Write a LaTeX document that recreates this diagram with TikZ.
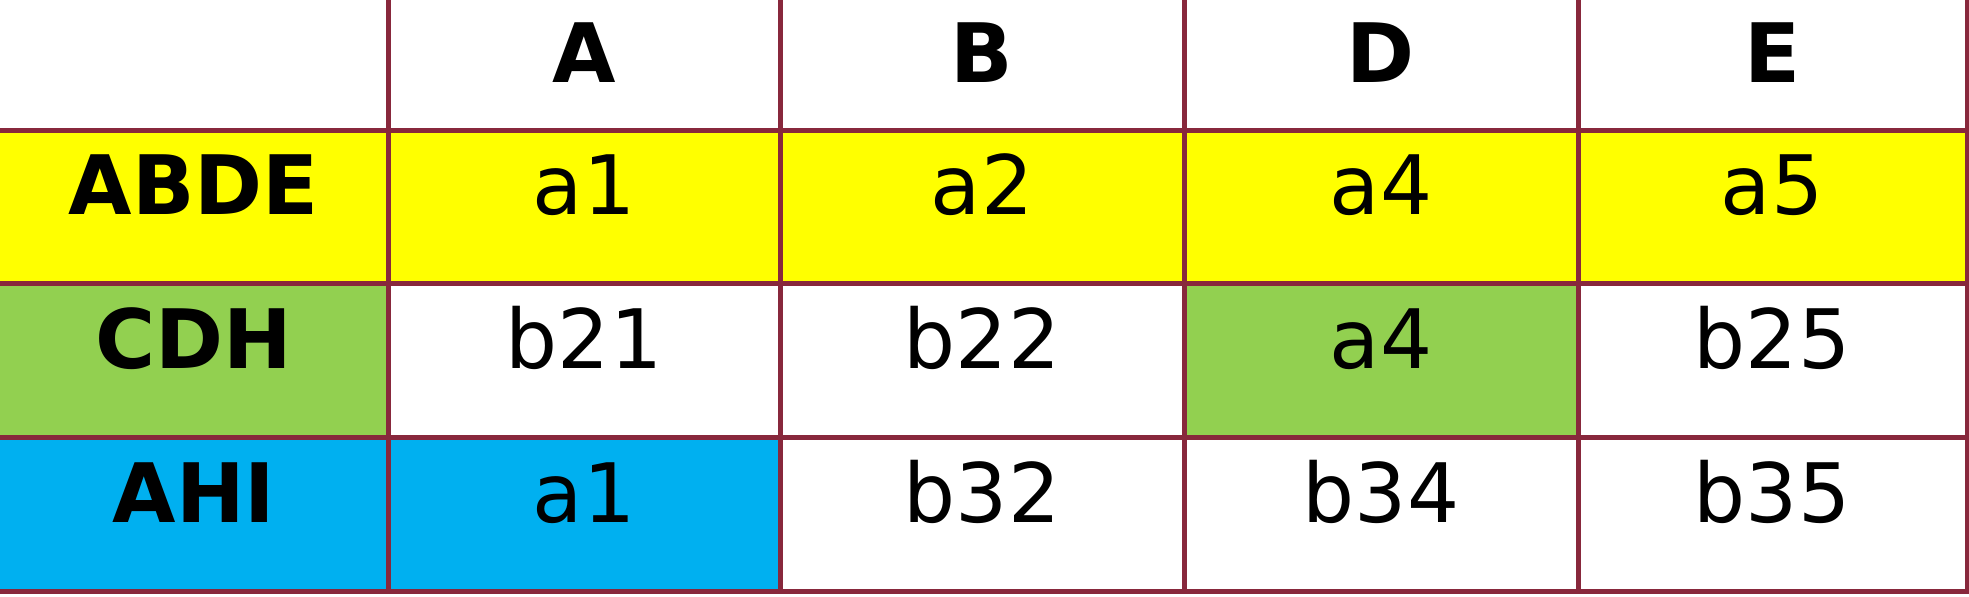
\documentclass[tikz,border=0pt]{standalone}
\usepackage{fontspec}
\setmainfont{DejaVu Sans}
\definecolor{gridc}{RGB}{136,40,60}
\definecolor{yel}{RGB}{255,255,0}
\definecolor{grn}{RGB}{146,208,80}
\definecolor{blu}{RGB}{0,176,240}
\begin{document}
\begin{tikzpicture}[x=0.5pt,y=-0.5pt,
  hd/.style={font=\fontsize{41}{49}\selectfont\bfseries, anchor=base, inner sep=0pt},
  cl/.style={font=\fontsize{41}{49}\selectfont, anchor=base, inner sep=0pt},
  gl/.style={draw=gridc, line width=2.5pt}]
\useasboundingbox (0,0) rectangle (1969,597);
\fill[white] (0,0) rectangle (1969,597);
% fills
\fill[yel] (0,131) rectangle (1967,284);
\fill[grn] (0,284) rectangle (388,438);
\fill[grn] (1184,284) rectangle (1578,438);
\fill[blu] (0,438) rectangle (780,592);
% grid
\draw[gl] (-2,-2) rectangle (1967,592);
\draw[gl] (388,-2) -- (388,592);
\draw[gl] (780,-2) -- (780,592);
\draw[gl] (1184,-2) -- (1184,592);
\draw[gl] (1578,-2) -- (1578,592);
\draw[gl] (-2,131) -- (1967,131);
\draw[gl] (-2,284) -- (1967,284);
\draw[gl] (-2,438) -- (1967,438);
% header row
\node[hd] (hA) at (584,83) {A};
\node[hd] (hB) at (982,83) {B};
\node[hd] (hD) at (1381,83) {D};
\node[hd] (hE) at (1772,83) {E};
% row labels
\node[hd] (r1) at (194,215) {ABDE};
\node[hd] (r2) at (194,369) {CDH};
\node[hd] (r3) at (194,523) {AHI};
% row 1
\node[cl] (c11) at (584,215) {a1};
\node[cl] (c12) at (982,215) {a2};
\node[cl] (c13) at (1381,215) {a4};
\node[cl] (c14) at (1772,215) {a5};
% row 2
\node[cl] (c21) at (584,369) {b21};
\node[cl] (c22) at (982,369) {b22};
\node[cl] (c23) at (1381,369) {a4};
\node[cl] (c24) at (1772,369) {b25};
% row 3
\node[cl] (c31) at (584,523) {a1};
\node[cl] (c32) at (982,523) {b32};
\node[cl] (c33) at (1381,523) {b34};
\node[cl] (c34) at (1772,523) {b35};
\end{tikzpicture}
\end{document}
